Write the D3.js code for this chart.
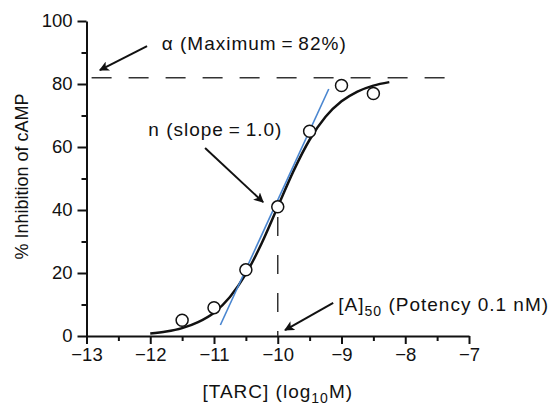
<!DOCTYPE html>
<html>
<head>
<meta charset="utf-8">
<script src="https://cdn.jsdelivr.net/npm/d3@7"></script>
<style>
  body { margin: 0; background: #fff; }
  text { font-family: "Liberation Sans", Arial, sans-serif; fill: #111; }
  .axis path, .axis line { stroke: #111; stroke-width: 2; }
  .axis text { font-size: 18.5px; }
  .note { font-size: 19px; letter-spacing: 1px; }
</style>
</head>
<body>
<div id="chart"></div>
<script>
// measured points (log10 M, % inhibition)
var doseLog = [-11.5, -11, -10.5, -10, -9.5, -9, -8.5];
var inhibition = [5, 9, 21, 41, 65, 79.5, 77];

// fitted curve
var curveX = [-12, -11.75, -11.5, -11.25, -11, -10.75, -10.5, -10.25, -10, -9.75, -9.5, -9.25, -9, -8.75, -8.5, -8.25];
var curveY = [0.8, 1.4, 2.5, 4.4, 7.4, 12.4, 19.7, 29.5, 41, 52.5, 62.3, 69.6, 74.5, 77.6, 79.5, 80.6];

// slope line (blue)
var slopeX = [-10.9, -9.2];
var slopeY = [3.5, 78.4];

var maxValue = 82;
var ec50 = -10;

var xTicks = [-13, -12, -11, -10, -9, -8, -7];
var xMinor = [-12.5, -11.5, -10.5, -9.5, -8.5, -7.5];
var yTicks = [0, 20, 40, 60, 80, 100];
var yMinor = [10, 30, 50, 70, 90];

var svgWidth = 553, svgHeight = 408;
var margin = { top: 21, right: 84, bottom: 72, left: 86.5 };
var width = svgWidth - margin.left - margin.right;
var height = svgHeight - margin.top - margin.bottom;

var svg = d3.select("#chart").append("svg")
    .attr("width", svgWidth)
    .attr("height", svgHeight);

svg.append("defs").append("marker")
    .attr("id", "head")
    .attr("viewBox", "0 0 10 10")
    .attr("refX", 9).attr("refY", 5)
    .attr("markerWidth", 5).attr("markerHeight", 5)
    .attr("markerUnits", "strokeWidth")
    .attr("orient", "auto")
  .append("path")
    .attr("d", "M0,0 L10,5 L0,10 L2.5,5 Z")
    .attr("fill", "#111");

var chartGroup = svg.append("g")
    .attr("transform", `translate(${margin.left}, ${margin.top})`);

var x = d3.scaleLinear().domain([-13, -7]).range([0, width]);
var y = d3.scaleLinear().domain([0, 100]).range([height, 0]);

var fmt = function(d) { return d < 0 ? "\u2212" + Math.abs(d) : d; };

// axes - minor ticks first, then major
chartGroup.append("g").attr("class", "axis")
    .attr("transform", `translate(0, ${height})`)
    .call(d3.axisBottom(x).tickValues(xMinor).tickSize(5).tickFormat(""))
    .select(".domain").remove();
chartGroup.append("g").attr("class", "axis")
    .attr("transform", `translate(0, ${height})`)
    .call(d3.axisBottom(x).tickValues(xTicks).tickSize(8).tickSizeOuter(0).tickPadding(4).tickFormat(fmt));

chartGroup.append("g").attr("class", "axis")
    .call(d3.axisLeft(y).tickValues(yMinor).tickSize(5).tickFormat(""))
    .select(".domain").remove();
chartGroup.append("g").attr("class", "axis")
    .call(d3.axisLeft(y).tickValues(yTicks).tickSize(9).tickSizeOuter(0).tickPadding(5));

// dashed guide lines
chartGroup.append("line")
    .attr("x1", x(-12.92)).attr("x2", x(-7.33))
    .attr("y1", y(maxValue)).attr("y2", y(maxValue))
    .attr("stroke", "#333").attr("stroke-width", 1.5)
    .attr("stroke-dasharray", "20,17");

chartGroup.append("line")
    .attr("x1", x(ec50)).attr("x2", x(ec50))
    .attr("y1", y(37.8)).attr("y2", y(0))
    .attr("stroke", "#333").attr("stroke-width", 1.5)
    .attr("stroke-dasharray", "19,19");

// fitted curve
var line = d3.line()
    .x(function(d) { return x(d[0]); })
    .y(function(d) { return y(d[1]); })
    .curve(d3.curveMonotoneX);

chartGroup.append("path")
    .datum(d3.zip(curveX, curveY))
    .attr("d", line)
    .attr("fill", "none")
    .attr("stroke", "#111")
    .attr("stroke-width", 2.5);

// slope line
chartGroup.append("path")
    .datum(d3.zip(slopeX, slopeY))
    .attr("d", d3.line().x(function(d) { return x(d[0]); }).y(function(d) { return y(d[1]); }))
    .attr("stroke", "#4a86d0")
    .attr("stroke-width", 1.6);

// points
chartGroup.selectAll("circle")
    .data(d3.zip(doseLog, inhibition))
    .enter()
    .append("circle")
    .attr("cx", function(d) { return x(d[0]); })
    .attr("cy", function(d) { return y(d[1]); })
    .attr("r", 6)
    .attr("fill", "#fff")
    .attr("stroke", "#111")
    .attr("stroke-width", 1.5);

// annotation arrows [x1, y1, x2, y2] in data units
var arrows = [
    [-12.05, 92, -12.79, 84.4],
    [-11.14, 59.7, -10.23, 42.5],
    [-9.13, 10.5, -9.886, 1.9]
];
chartGroup.selectAll(".arrow")
    .data(arrows)
    .enter()
    .append("line")
    .attr("class", "arrow")
    .attr("x1", function(d) { return x(d[0]); })
    .attr("y1", function(d) { return y(d[1]); })
    .attr("x2", function(d) { return x(d[2]); })
    .attr("y2", function(d) { return y(d[3]); })
    .attr("stroke", "#111")
    .attr("stroke-width", 2)
    .attr("marker-end", "url(#head)");

// annotation texts
chartGroup.append("text")
    .attr("class", "note")
    .attr("x", x(-11.82)).attr("y", y(90.8))
    .text("\u03b1 (Maximum\u2009=\u200982%)");

chartGroup.append("text")
    .attr("class", "note")
    .attr("x", x(-12.03)).attr("y", y(63.6))
    .text("n (slope\u2009=\u20091.0)");

var a50 = chartGroup.append("text")
    .attr("class", "note")
    .attr("x", x(-9.05)).attr("y", y(8.0));
a50.append("tspan").text("[A]");
a50.append("tspan").attr("dy", 5).style("font-size", "14px").text("50");
a50.append("tspan").attr("dy", -5).text(" (Potency 0.1 nM)");

// axis titles
var xTitle = chartGroup.append("text")
    .attr("class", "note")
    .attr("x", width / 2)
    .attr("y", height + 62)
    .attr("text-anchor", "middle");
xTitle.append("tspan").text("[TARC] (log");
xTitle.append("tspan").attr("dy", 5).style("font-size", "14px").text("10");
xTitle.append("tspan").attr("dy", -5).text("M)");

chartGroup.append("text")
    .attr("transform", "rotate(-90)")
    .attr("x", -(height / 2) + 2)
    .attr("y", -59)
    .attr("text-anchor", "middle")
    .style("font-size", "18px")
    .text("% Inhibition of cAMP");
</script>
</body>
</html>
